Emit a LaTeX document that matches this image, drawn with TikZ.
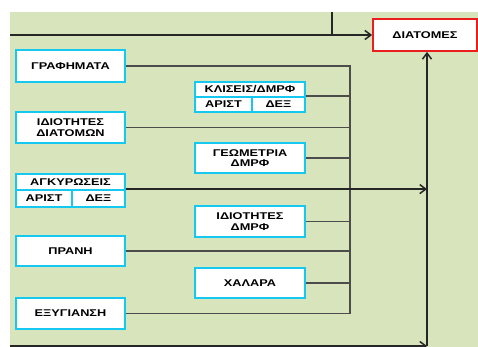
\documentclass[tikz,border=0pt]{standalone}
\usepackage{fontspec}
\setmainfont{Liberation Sans}[FakeStretch=1.3]
\definecolor{PanelGreen}{RGB}{216,228,188}
\definecolor{BoxCyan}{RGB}{20,200,240}
\definecolor{BoxRed}{RGB}{235,30,30}
\usetikzlibrary{positioning,arrows.meta}
\tikzset{>={Straight Barb[length=6pt,width=9pt]}}
\tikzset{mybox/.style={draw=BoxCyan,line width=1.8pt,fill=white,inner sep=0pt,align=center,font=\fontsize{9.8}{10.4}\selectfont\bfseries}}
\tikzset{mylines/.style={line width=1.5pt,draw=black!70}}

\begin{document}
\begin{tikzpicture}[x=1pt,y=-1pt]
        \useasboundingbox (0,0) rectangle (478,347);
        \fill[PanelGreen] (10,12) rectangle (478,347);
        % left column
        \node[mybox,minimum width=109pt,minimum height=32pt](graf) at (70.5,66) {ΓΡΑΦΗΜΑΤΑ};
        \node[mybox,minimum width=109pt,minimum height=31pt](idiodiat) at (70.5,127.5) {ΙΔΙΟΤΗΤΕΣ\\ΔΙΑΤΟΜΩΝ};
        \node[mybox,minimum width=109pt,minimum height=16pt](agk) at (70.5,182) {ΑΓΚΥΡΩΣΕΙΣ};
        \node[mybox,minimum width=56pt,minimum height=17pt](agkar) at (44,198.5) {ΑΡΙΣΤ};
        \node[mybox,minimum width=53pt,minimum height=17pt](agkdex) at (98.5,198.5) {ΔΕΞ};
        \node[mybox,minimum width=109pt,minimum height=30pt](prani) at (70.5,251) {ΠΡΑΝΗ};
        \node[mybox,minimum width=109pt,minimum height=31pt](exyg) at (70.5,313.5) {ΕΞΥΓΙΑΝΣΗ};
        % middle column
        \node[mybox,minimum width=110pt,minimum height=15pt](kleis) at (250,89.5) {ΚΛΙΣΕΙΣ/ΔΜΡΦ};
        \node[mybox,minimum width=57pt,minimum height=15pt](kleisar) at (223.5,104.5) {ΑΡΙΣΤ};
        \node[mybox,minimum width=53pt,minimum height=15pt](kleisdex) at (278.5,104.5) {ΔΕΞ};
        \node[mybox,minimum width=110pt,minimum height=30pt](geom) at (250,158) {ΓΕΩΜΕΤΡΙΑ\\ΔΜΡΦ};
        \node[mybox,minimum width=110pt,minimum height=31pt](idiodmrf) at (250,221.5) {ΙΔΙΟΤΗΤΕΣ\\ΔΜΡΦ};
        \node[mybox,minimum width=110pt,minimum height=30pt](xalara) at (250,283) {ΧΑΛΑΡΑ};
        % target
        \node[mybox,draw=BoxRed,minimum width=104pt,minimum height=32pt](diat) at (425,35) {ΔΙΑΤΟΜΕΣ};
        % connectors
        \coordinate (trunktop) at (350,66);
        \coordinate (trunkbot) at (350,313.5);
        \coordinate (riser) at (427,346);
        \coordinate (panelbot) at (10,346);
        \coordinate (topin) at (10,35);
        \coordinate (topdrop) at (332,12);
        \draw[mylines] (graf) -- (trunktop) -- (trunkbot) -- (exyg);
        \draw[mylines] (idiodiat) -- (idiodiat -| trunktop);
        \draw[mylines] (kleisdex.north east) -- (kleisdex.north east -| trunktop);
        \draw[mylines] (geom) -- (geom -| trunktop);
        \draw[mylines] (idiodmrf) -- (idiodmrf -| trunktop);
        \draw[mylines] (prani) -- (prani -| trunktop);
        \draw[mylines] (xalara) -- (xalara -| trunktop);
        \draw[mylines,draw=black!85,->] (agkdex.north east) -- (agkdex.north east -| riser);
        \draw[mylines,draw=black!85,->] (panelbot) -- (riser);
        \draw[mylines,draw=black!85,->] (riser) -- (diat.south -| riser);
        \draw[mylines,draw=black!85,->] (topin) -- (diat);
        \draw[mylines,draw=black!85] (topdrop) -- (topdrop |- topin);
    \end{tikzpicture}
\end{document}
